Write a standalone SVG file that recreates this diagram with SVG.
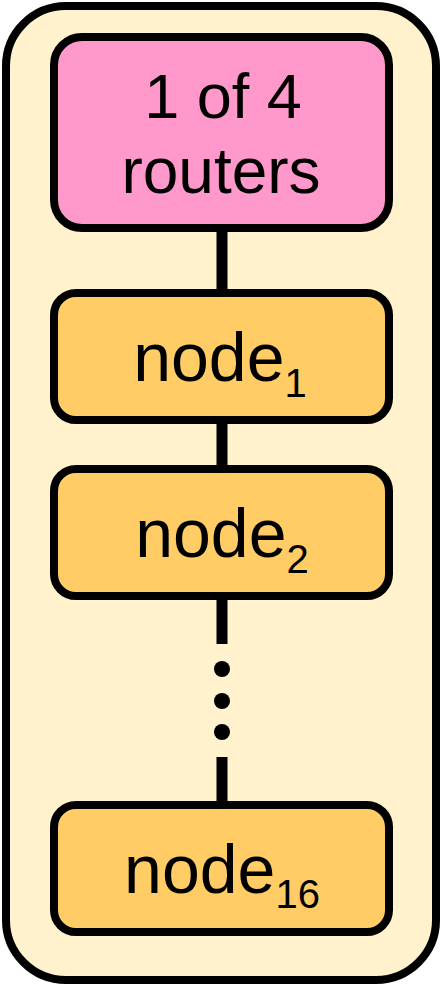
<svg xmlns="http://www.w3.org/2000/svg" width="441" height="986" viewBox="0 0 441 986">
<style>
.box{stroke:#000;stroke-width:8}
.lbl{font-family:"Liberation Sans",Arial,sans-serif;fill:#000;text-anchor:middle}
.conn{stroke:#000;stroke-width:11;fill:none}
</style>
<g id="container">
<rect x="6" y="6" width="430" height="974" rx="60" ry="60" fill="#FFF2CC" class="box"/>
</g>
<g id="connectors">
<line class="conn" x1="222" y1="228" x2="222" y2="293"/>
<line class="conn" x1="222" y1="420" x2="222" y2="469"/>
<line class="conn" x1="222" y1="596" x2="222" y2="644"/>
<line class="conn" x1="222" y1="757" x2="222" y2="805"/>
<circle cx="222" cy="669" r="8" fill="#000"/>
<circle cx="222" cy="701" r="8" fill="#000"/>
<circle cx="222" cy="732" r="8" fill="#000"/>
</g>
<g id="router">
<rect x="54" y="37" width="335" height="191" rx="28" ry="28" fill="#FF99CC" class="box"/>
<text class="lbl" x="223" y="118" font-size="63">1 of 4</text>
<text class="lbl" x="221" y="193" font-size="64">routers</text>
</g>
<g id="node1">
<rect x="54" y="293" width="335" height="127" rx="22" ry="22" fill="#FFCC66" class="box"/>
<text class="lbl" x="220" y="381" font-size="68">node<tspan font-size="40" dy="16">1</tspan></text>
</g>
<g id="node2">
<rect x="54" y="469" width="335" height="127" rx="22" ry="22" fill="#FFCC66" class="box"/>
<text class="lbl" x="222" y="557" font-size="68">node<tspan font-size="40" dy="16">2</tspan></text>
</g>
<g id="node16">
<rect x="54" y="805" width="335" height="127" rx="22" ry="22" fill="#FFCC66" class="box"/>
<text class="lbl" x="222" y="893" font-size="68">node<tspan font-size="40" dy="15">16</tspan></text>
</g>
</svg>
